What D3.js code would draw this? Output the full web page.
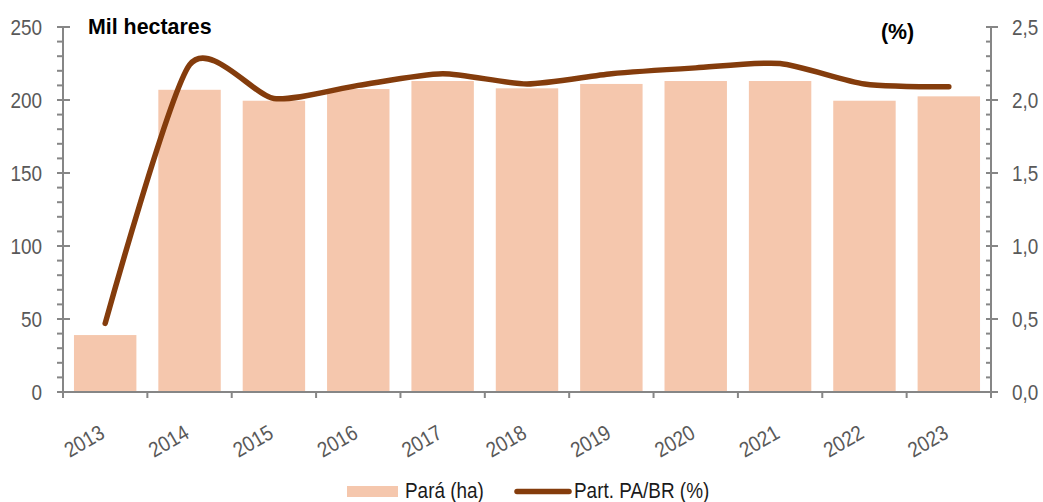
<!DOCTYPE html>
<html>
<head>
<meta charset="utf-8">
<script src="https://cdn.jsdelivr.net/npm/d3@7"></script>
<style>
  body { margin: 0; background: #fff; }
  svg { font-family: "Liberation Sans", Arial, sans-serif; }
</style>
</head>
<body>
<div id="chart"></div>
<script>
const years = ["2013", "2014", "2015", "2016", "2017", "2018", "2019", "2020", "2021", "2022", "2023"];
const areaHa = [39, 207, 199.5, 207.5, 213, 208, 211, 213, 213, 199.5, 202.5];
const sharePct = [0.47, 2.24, 2.01, 2.1, 2.18, 2.11, 2.18, 2.22, 2.25, 2.11, 2.09];
const leftTicks = [0, 50, 100, 150, 200, 250];
const rightTicks = [0, 0.5, 1, 1.5, 2, 2.5];

const width = 1043;
const height = 502;
const margin = { top: 27, right: 52, bottom: 110, left: 63 };
const axisColor = "#868686";
const labelColor = "#595959";
const squeeze = 0.88; // text in the reference is a bit narrow

const svg = d3.select("#chart")
  .append("svg")
  .attr("width", width)
  .attr("height", height);

const x = d3.scaleBand()
  .domain(years)
  .range([margin.left, width - margin.right])
  .paddingInner(0.26)
  .paddingOuter(0.13);

const yLeft = d3.scaleLinear().domain([0, 250]).range([height - margin.bottom, margin.top]);
const yRight = d3.scaleLinear().domain([0, 2.5]).range([height - margin.bottom, margin.top]);

const x0 = margin.left;
const x1 = width - margin.right;
const yBase = height - margin.bottom;

const addText = (g, tx, ty, txt, opts) => {
  const o = Object.assign({ size: 21.5, anchor: "start", fill: labelColor, weight: "normal", rotate: 0, sx: squeeze }, opts);
  return g.append("text")
    .attr("transform", `translate(${tx},${ty}) rotate(${o.rotate}) scale(${o.sx},1)`)
    .attr("text-anchor", o.anchor)
    .attr("font-size", o.size)
    .attr("font-weight", o.weight)
    .attr("fill", o.fill)
    .text(txt);
};

// bars
svg.selectAll("rect.bar")
  .data(areaHa)
  .enter()
  .append("rect")
  .attr("class", "bar")
  .attr("fill", "#f5c7ad")
  .attr("x", (d, i) => x(years[i]))
  .attr("y", d => yLeft(d))
  .attr("width", x.bandwidth())
  .attr("height", d => yBase - yLeft(d));

// left axis
const gl = svg.append("g").attr("stroke", axisColor).attr("stroke-width", 2);
gl.append("line").attr("x1", x0).attr("x2", x0).attr("y1", yLeft(250)).attr("y2", yBase + 6);
d3.range(0, 251, 10).forEach(v => {
  const major = v % 50 === 0;
  gl.append("line")
    .attr("x1", x0 - 6).attr("x2", major ? x0 + 7 : x0)
    .attr("y1", yLeft(v)).attr("y2", yLeft(v));
});
leftTicks.forEach(v => addText(svg, 42, yLeft(v) + 8, v, { anchor: "end" }));

// right axis
const gr = svg.append("g").attr("stroke", axisColor).attr("stroke-width", 2);
gr.append("line").attr("x1", x1).attr("x2", x1).attr("y1", yRight(2.5)).attr("y2", yBase + 6);
d3.range(0, 26).forEach(k => {
  const v = k / 10;
  const major = k % 5 === 0;
  gr.append("line")
    .attr("x1", x1 - 5).attr("x2", major ? x1 + 7 : x1)
    .attr("y1", yRight(v)).attr("y2", yRight(v));
});
rightTicks.forEach(v => addText(svg, 1012, yRight(v) + 8, d3.format(".1f")(v).replace(".", ",")));

// x axis
const gx = svg.append("g").attr("stroke", axisColor).attr("stroke-width", 2);
gx.append("line").attr("x1", x0).attr("x2", x1).attr("y1", yBase).attr("y2", yBase);
years.forEach(y => {
  const xb = x(y) - x.step() * x.paddingInner() / 2;
  gx.append("line").attr("x1", xb).attr("x2", xb).attr("y1", yBase).attr("y2", yBase + 6);
});
years.forEach(y => addText(svg, x(y) + x.bandwidth() / 2 + 1, yBase + 45, y, { anchor: "end", rotate: -30 }));

// line (smoothed like the spreadsheet curve)
const line = d3.line()
  .x((d, i) => x(years[i]) + x.bandwidth() / 2)
  .y(d => yRight(d))
  .curve(d3.curveCardinal.tension(0.3));
svg.append("path")
  .datum(sharePct)
  .attr("fill", "none")
  .attr("stroke", "#843c0c")
  .attr("stroke-width", 5.5)
  .attr("stroke-linecap", "round")
  .attr("d", line);

// titles
addText(svg, 88, 34, "Mil hectares", { size: 23, weight: "bold", fill: "#000", sx: 0.93 });
addText(svg, 881, 39, "(%)", { size: 23, weight: "bold", fill: "#000", sx: 0.93 });

// legend
const lg = svg.append("g");
lg.append("rect").attr("x", 347).attr("y", 486).attr("width", 51).attr("height", 11).attr("fill", "#f5c7ad");
addText(lg, 405, 498, "Pará (ha)", { fill: "#1a1a1a" });
lg.append("line").attr("x1", 517).attr("x2", 569).attr("y1", 491.5).attr("y2", 491.5)
  .attr("stroke", "#843c0c").attr("stroke-width", 5.5).attr("stroke-linecap", "round");
addText(lg, 574, 498, "Part. PA/BR (%)", { fill: "#1a1a1a" });
</script>
</body>
</html>
